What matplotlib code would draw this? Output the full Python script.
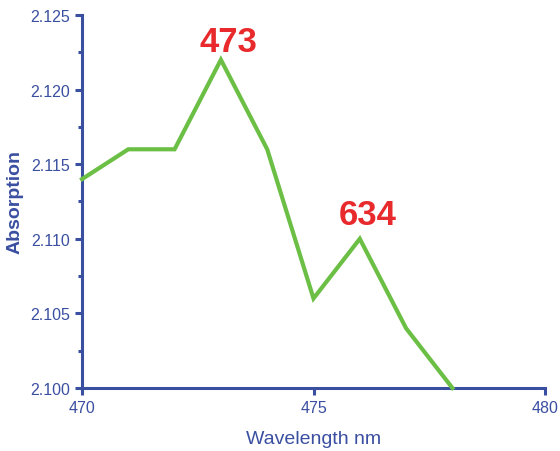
import matplotlib
matplotlib.use("Agg")
import matplotlib.pyplot as plt
from matplotlib.ticker import MultipleLocator

wavelength = [470, 471, 472, 473, 474, 475, 476, 477, 478]
absorption = [2.114, 2.116, 2.116, 2.122, 2.116, 2.106, 2.110, 2.104, 2.100]
peak_labels = ["473", "634"]
peak_pos = [(473.17, 2.1232), (476.18, 2.1116)]

blue = "#3a4fa0"
green = "#6cbf45"
red = "#e82a2c"

plt.rcParams['font.family'] = ['Liberation Sans', 'DejaVu Sans']
fig = plt.figure(figsize=(5.6, 4.52), dpi=100)
ax = fig.add_axes([82/560, 1-389/452, (545-82)/560, (389-16)/452])
ax.plot(wavelength, absorption, color=green, lw=3, solid_joinstyle='miter', clip_on=False, zorder=3)
ax.set_xlim(470, 480)
ax.set_ylim(2.100, 2.125)
ax.xaxis.set_major_locator(MultipleLocator(5))
ax.yaxis.set_major_locator(MultipleLocator(0.005))
ax.yaxis.set_minor_locator(MultipleLocator(0.0025))
ax.yaxis.set_major_formatter(matplotlib.ticker.FormatStrFormatter('%.3f'))
for s in ['top', 'right']:
    ax.spines[s].set_visible(False)
for s in ['left', 'bottom']:
    ax.spines[s].set_color(blue)
    ax.spines[s].set_linewidth(2.2)
ax.tick_params(axis='both', which='major', color=blue, labelcolor=blue, width=2.2, length=5, labelsize=11.5, direction='out')
ax.tick_params(axis='y', which='minor', color=blue, width=2.2, length=3, direction='out')
ax.set_xlabel("Wavelength nm", color=blue, fontsize=14, labelpad=11)
ax.set_ylabel("Absorption", color=blue, fontsize=14, fontweight='bold', labelpad=5)
for lab, (px, py) in zip(peak_labels, peak_pos):
    ax.text(px, py, lab, color=red, fontsize=25, fontweight='bold', ha='center', va='center')
fig.savefig("out.png", dpi=100)
